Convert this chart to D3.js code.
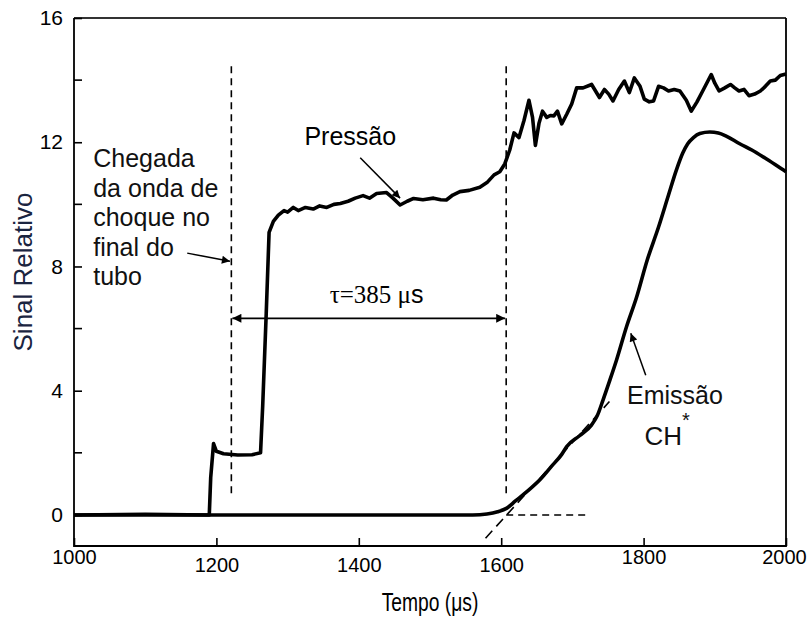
<!DOCTYPE html>
<html>
<head>
<meta charset="utf-8">
<script src="https://cdn.jsdelivr.net/npm/d3@7"></script>
<style>
  html, body { margin: 0; padding: 0; background: #fff; }
  svg { display: block; font-family: Arial, "Liberation Sans", sans-serif; }
</style>
</head>
<body>
<svg id="chart" width="808" height="617"></svg>
<script>
// Pressure trace (time in µs, relative signal)
const pressureTime = [1000, 1100, 1190, 1192, 1196, 1200, 1210, 1230, 1250, 1262, 1265, 1270, 1274, 1280, 1287, 1295, 1300, 1308, 1315, 1325, 1336, 1345, 1355, 1365, 1374, 1385, 1395, 1406, 1415, 1425, 1439, 1448, 1458, 1468, 1477, 1490, 1505, 1515, 1523, 1532, 1542, 1555, 1570, 1580, 1590, 1598, 1605, 1612, 1618, 1625, 1632, 1639, 1644, 1648, 1653, 1658, 1664, 1669, 1674, 1679, 1685, 1692, 1699, 1706, 1715, 1727, 1738, 1745, 1751, 1757, 1765, 1773, 1780, 1787, 1795, 1801, 1808, 1814, 1821, 1828, 1835, 1843, 1851, 1860, 1867, 1875, 1883, 1895, 1900, 1906, 1914, 1922, 1928, 1934, 1941, 1948, 1956, 1964, 1971, 1978, 1985, 1992, 2000];
const pressureValue = [0.0, 0.02, 0.0, 1.2, 2.3, 2.05, 1.97, 1.93, 1.94, 2.0, 3.5, 6.5, 9.1, 9.45, 9.65, 9.8, 9.75, 9.9, 9.8, 9.9, 9.85, 9.95, 9.9, 10.0, 10.03, 10.1, 10.2, 10.28, 10.2, 10.35, 10.38, 10.2, 9.98, 10.1, 10.19, 10.15, 10.2, 10.15, 10.14, 10.3, 10.41, 10.45, 10.55, 10.7, 10.95, 11.05, 11.3, 11.75, 12.3, 12.15, 12.7, 13.35, 12.8, 11.9, 12.6, 13.0, 12.8, 12.86, 12.85, 13.0, 12.59, 12.9, 13.23, 13.75, 13.75, 13.86, 13.44, 13.7, 13.55, 13.33, 13.7, 13.97, 13.6, 14.07, 13.8, 13.39, 13.3, 13.33, 13.8, 13.75, 13.65, 13.7, 13.65, 13.35, 13.0, 13.3, 13.65, 14.18, 13.9, 13.65, 13.75, 13.86, 13.75, 13.65, 13.7, 13.5, 13.55, 13.65, 13.8, 13.97, 14.0, 14.15, 14.2];

// CH* emission trace
const emissionTime = [1000, 1560, 1580, 1595, 1608, 1620, 1636, 1655, 1670, 1685, 1692, 1710, 1727, 1735, 1743, 1752, 1762, 1776, 1790, 1805, 1821, 1835, 1846, 1855, 1862, 1870, 1879, 1893, 1905, 1916, 1935, 1952, 1970, 1992, 2000];
const emissionValue = [0, 0.0, 0.03, 0.1, 0.22, 0.45, 0.75, 1.15, 1.55, 1.95, 2.2, 2.55, 2.9, 3.2, 3.7, 4.3, 4.99, 6.06, 7.0, 8.2, 9.27, 10.3, 11.1, 11.65, 11.95, 12.15, 12.28, 12.33, 12.3, 12.2, 11.95, 11.75, 11.5, 11.17, 11.05];

// Axis ticks
const xTicks = [1000, 1200, 1400, 1600, 1800, 2000];
const yMajorTicks = [0, 4, 8, 12, 16];
const yMinorTicks = [2, 6, 10, 14];

// Event markers
const shockArrival = 1221;     // shock wave reaches the tube end
const ignitionOnset = 1607;    // onset of CH* emission
const delayLabel = "τ=385 μ";

const svg = d3.select("#chart");
const plot = { left: 74, right: 786, top: 18, bottom: 546 };

const x = d3.scaleLinear().domain([1000, 2000]).range([plot.left, plot.right]);
const y = d3.scaleLinear().domain([-1, 16]).range([plot.bottom, plot.top]);

const defs = svg.append("defs");
defs.append("marker")
  .attr("id", "head")
  .attr("viewBox", "0 0 10 10")
  .attr("refX", 10).attr("refY", 5)
  .attr("markerWidth", 11).attr("markerHeight", 8)
  .attr("markerUnits", "userSpaceOnUse")
  .attr("orient", "auto-start-reverse")
  .append("path").attr("d", "M0,0 L10,5 L0,10 Z").attr("fill", "#000");

defs.append("marker")
  .attr("id", "headBig")
  .attr("viewBox", "0 0 10 10")
  .attr("refX", 10).attr("refY", 5)
  .attr("markerWidth", 14).attr("markerHeight", 9)
  .attr("markerUnits", "userSpaceOnUse")
  .attr("orient", "auto-start-reverse")
  .append("path").attr("d", "M0,0 L10,5 L0,10 Z").attr("fill", "#000");

// Frame
svg.append("line").attr("x1", plot.left).attr("x2", plot.right).attr("y1", plot.top).attr("y2", plot.top)
  .attr("stroke", "#333").attr("stroke-width", 2);
svg.append("path")
  .attr("d", `M${plot.left},${plot.top} V${plot.bottom} H${plot.right} V${plot.top}`)
  .attr("fill", "none").attr("stroke", "#000").attr("stroke-width", 1.8);

// Bottom axis (inward ticks)
const xAxis = d3.axisBottom(x).tickValues(xTicks).tickSize(-8).tickPadding(4).tickFormat(d3.format("d"));
const gx = svg.append("g").attr("transform", `translate(0,${plot.bottom})`).call(xAxis);
gx.select(".domain").remove();
gx.selectAll(".tick line").attr("stroke", "#000").attr("stroke-width", 1.6);
gx.selectAll(".tick text").attr("font-size", 20).attr("fill", "#000")
  .attr("font-family", "Arial, 'Liberation Sans', sans-serif")
  .attr("transform", d => (d > 1000 && d < 1800) ? "translate(0,8)" : (d === 2000 ? "translate(-2,0)" : null));

// Left axis (inward ticks)
const yAxis = d3.axisLeft(y).tickValues(yMajorTicks).tickSize(-8).tickPadding(11).tickFormat(d3.format("d"));
const gy = svg.append("g").attr("transform", `translate(${plot.left},0)`).call(yAxis);
gy.select(".domain").remove();
gy.selectAll(".tick line").attr("stroke", "#000").attr("stroke-width", 1.6);
gy.selectAll(".tick text").attr("font-size", 21).attr("fill", "#000")
  .attr("font-family", "Arial, 'Liberation Sans', sans-serif");
svg.append("g").selectAll("line").data(yMinorTicks).join("line")
  .attr("x1", plot.left).attr("x2", plot.left + 8)
  .attr("y1", d => y(d)).attr("y2", d => y(d))
  .attr("stroke", "#000").attr("stroke-width", 1.6);

// Axis titles
svg.append("text").attr("transform", "translate(430,611) scale(0.77,1)").attr("text-anchor", "middle")
  .attr("font-size", 25).attr("fill", "#000")
  .text("Tempo (μs)");
svg.append("text").attr("transform", "translate(32,272) rotate(-90)").attr("text-anchor", "middle")
  .attr("font-size", 26).attr("fill", "#1a2440")
  .text("Sinal Relativo");

// Dashed guide lines
const dash = "7,5";
[shockArrival, ignitionOnset].forEach(t => {
  svg.append("line").attr("x1", x(t)).attr("x2", x(t)).attr("y1", y(14.45)).attr("y2", y(0.6))
    .attr("stroke", "#000").attr("stroke-width", 1.6).attr("stroke-dasharray", dash);
});
svg.append("line").attr("x1", x(ignitionOnset)).attr("x2", x(1722)).attr("y1", y(0)).attr("y2", y(0))
  .attr("stroke", "#000").attr("stroke-width", 1.6).attr("stroke-dasharray", dash);
svg.append("line").attr("x1", x(1578)).attr("x2", x(1752)).attr("y1", y(-0.75)).attr("y2", y(3.65))
  .attr("stroke", "#000").attr("stroke-width", 1.6).attr("stroke-dasharray", "10,6");

// Curves
const line = d3.line().x(d => x(d[0])).y(d => y(d[1]));
svg.append("path")
  .datum(pressureTime.map((t, i) => [t, pressureValue[i]]))
  .attr("d", line)
  .attr("fill", "none").attr("stroke", "#000").attr("stroke-width", 3.6)
  .attr("stroke-linejoin", "round");
svg.append("path")
  .datum(emissionTime.map((t, i) => [t, emissionValue[i]]))
  .attr("d", line.curve(d3.curveMonotoneX))
  .attr("fill", "none").attr("stroke", "#000").attr("stroke-width", 3.6)
  .attr("stroke-linejoin", "round");

// Ignition delay arrow
svg.append("line")
  .attr("x1", x(shockArrival) + 1).attr("x2", x(ignitionOnset) - 1)
  .attr("y1", y(6.33)).attr("y2", y(6.33))
  .attr("stroke", "#000").attr("stroke-width", 1.6)
  .attr("marker-start", "url(#headBig)").attr("marker-end", "url(#headBig)");
const tau = svg.append("text").attr("x", x(1425)).attr("y", y(6.82)).attr("text-anchor", "middle")
  .attr("font-size", 25).attr("fill", "#000");
tau.append("tspan").attr("font-family", "'Times New Roman', 'Liberation Serif', serif").text(delayLabel);
tau.append("tspan").attr("font-family", "Arial, 'Liberation Sans', sans-serif").text("s");

// Labels and pointers
svg.append("text").attr("x", x(1388)).attr("y", y(11.9)).attr("text-anchor", "middle")
  .attr("font-size", 25).attr("fill", "#000").text("Pressão");
svg.append("line").attr("x1", x(1402)).attr("y1", y(11.5)).attr("x2", x(1458)).attr("y2", y(10.2))
  .attr("stroke", "#000").attr("stroke-width", 1.5).attr("marker-end", "url(#head)");

const arrival = ["Chegada", "da onda de", "choque no", "final do", "tubo"];
svg.append("g").selectAll("text").data(arrival).join("text")
  .attr("x", x(1027)).attr("y", (d, i) => y(11.2) + i * 29.6)
  .attr("font-size", 25).attr("fill", "#111").text(d => d);
svg.append("line").attr("x1", x(1159)).attr("y1", y(8.43)).attr("x2", x(1219)).attr("y2", y(8.17))
  .attr("stroke", "#000").attr("stroke-width", 1.5).attr("marker-end", "url(#head)");

svg.append("text").attr("x", x(1844)).attr("y", y(3.57)).attr("text-anchor", "middle")
  .attr("font-size", 25).attr("fill", "#111").text("Emissão");
const ch = svg.append("text").attr("x", x(1833)).attr("y", y(2.25)).attr("text-anchor", "middle")
  .attr("font-size", 26).attr("fill", "#111");
ch.append("tspan").text("CH");
ch.append("tspan").attr("dy", -18).attr("font-size", 20).text("*");
svg.append("line").attr("x1", x(1803)).attr("y1", y(4.5)).attr("x2", x(1782)).attr("y2", y(5.85))
  .attr("stroke", "#000").attr("stroke-width", 1.5).attr("marker-end", "url(#head)");
</script>
</body>
</html>
